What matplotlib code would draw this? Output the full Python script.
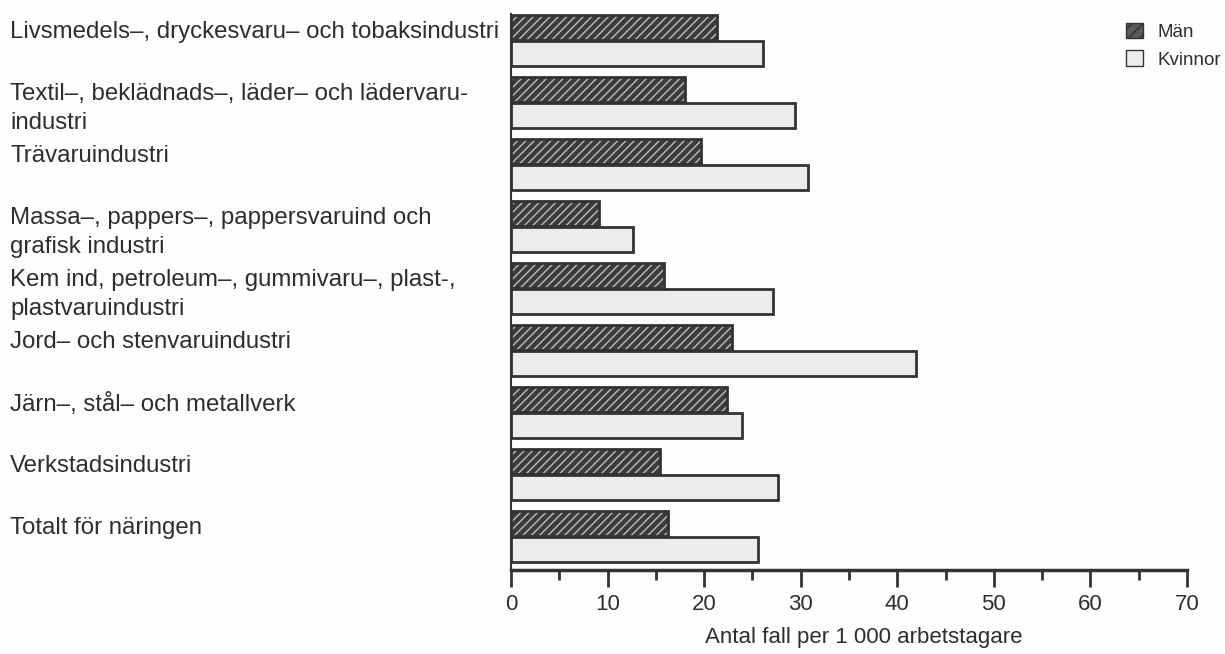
import matplotlib
matplotlib.use("Agg")
import matplotlib.pyplot as plt
import numpy as np
from matplotlib.patches import Patch
from matplotlib.ticker import MultipleLocator

labels = [
    "Livsmedels–, dryckesvaru– och tobaksindustri",
    "Textil–, beklädnads–, läder– och lädervaru-\nindustri",
    "Trävaruindustri",
    "Massa–, pappers–, pappersvaruind och\ngrafisk industri",
    "Kem ind, petroleum–, gummivaru–, plast-,\nplastvaruindustri",
    "Jord– och stenvaruindustri",
    "Järn–, stål– och metallverk",
    "Verkstadsindustri",
    "Totalt för näringen",
]
man = [21.3, 18.0, 19.7, 9.1, 15.8, 22.9, 22.4, 15.4, 16.3]
kvinnor = [26.1, 29.4, 30.8, 12.6, 27.1, 41.9, 23.9, 27.6, 25.6]

plt.rcParams['font.family'] = ['Liberation Sans', 'DejaVu Sans']
txt = '#2e2e2e'
dark = '#3c3c3c'
light = '#ececec'

fig = plt.figure(figsize=(12.25, 6.54), dpi=100)
fig.patch.set_facecolor('#fdfdfc')
ax = fig.add_axes([511/1225, 1-570/654, (1187-511)/1225, (570-14)/654])
ax.set_facecolor('none')

y = np.arange(len(labels))
h = 0.40
off = 0.21
plt.rcParams['hatch.linewidth'] = 1.0
# Män: dark fill with light diagonal hatch, then outline
ax.barh(y - off, man, height=h, color=dark, edgecolor='#bdbdbd', hatch='////', linewidth=0)
ax.barh(y - off, man, height=h, fill=False, edgecolor='#333333', linewidth=2)
ax.barh(y + off, kvinnor, height=h, color=light, edgecolor='#333333', linewidth=2)

ax.set_xlim(0, 70)
ax.set_ylim(8.54, -0.43)
ax.xaxis.set_major_locator(MultipleLocator(10))
ax.xaxis.set_minor_locator(MultipleLocator(5))
ax.tick_params(axis='x', which='major', direction='out', length=12, width=2, colors='#333333',
               labelsize=16, labelcolor=txt, pad=5)
ax.tick_params(axis='x', which='minor', direction='out', length=7, width=2, colors='#333333')
ax.set_yticks([])
for s in ['top', 'right']:
    ax.spines[s].set_visible(False)
ax.spines['bottom'].set_linewidth(2.5)
ax.spines['bottom'].set_color('#333333')
ax.spines['left'].set_linewidth(1.5)
ax.spines['left'].set_color('#333333')

ax.set_xlabel('Antal fall per 1 000 arbetstagare', fontsize=16, color=txt, labelpad=9, x=0.522)

# category labels, left aligned in the margin
trans = matplotlib.transforms.blended_transform_factory(fig.transFigure, ax.transData)
for i, lab in enumerate(labels):
    ax.text(10/1225, i - off - h/2 + 0.09, lab, transform=trans, ha='left', va='top',
            fontsize=17.3, color=txt, linespacing=1.4)

handles = [Patch(facecolor='#5a5a5a', edgecolor='#333333', hatch='///', label='Män'),
           Patch(facecolor=light, edgecolor='#333333', label='Kvinnor')]
fig.legend(handles=handles, loc='upper right', bbox_to_anchor=(1.011, 0.991), frameon=False,
           fontsize=13.5, handlelength=0.9, handleheight=0.9, handletextpad=0.8,
           labelspacing=0.5, labelcolor=txt)

fig.savefig('out.png', dpi=100, facecolor=fig.get_facecolor())
